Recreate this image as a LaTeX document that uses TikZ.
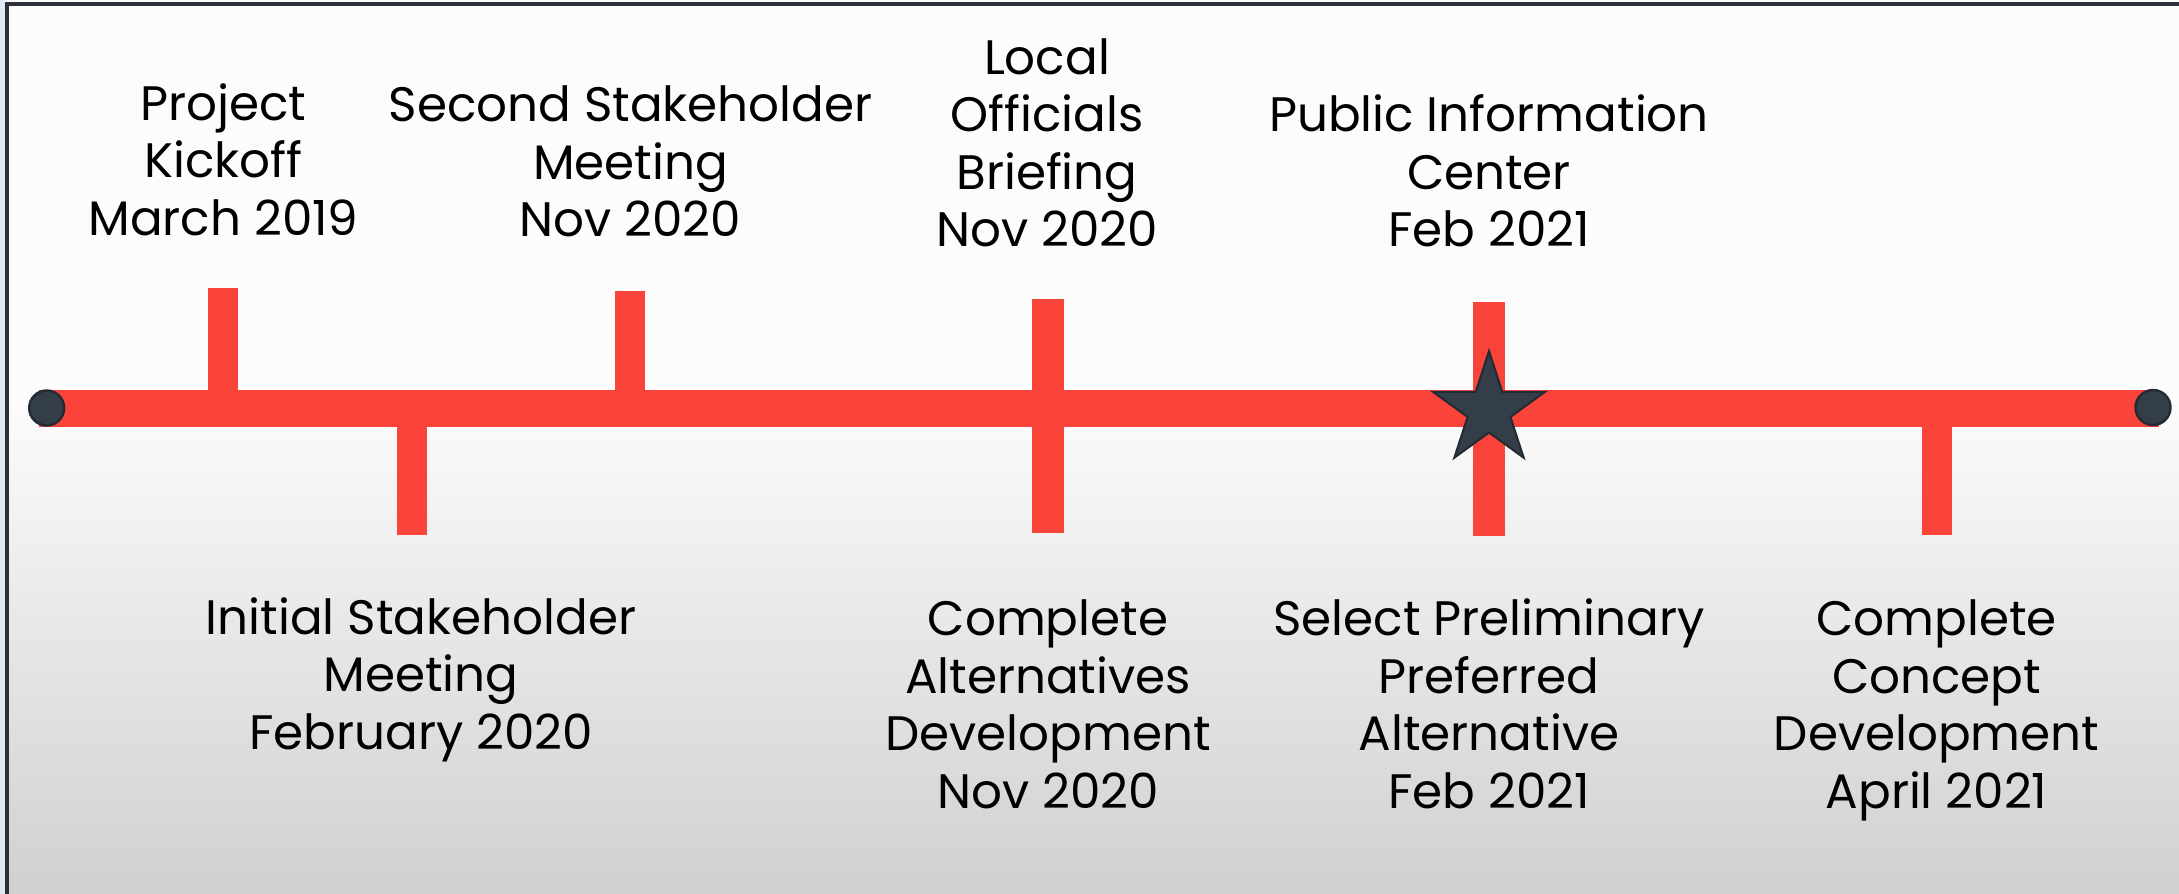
\documentclass[tikz,border=0pt]{standalone}
\usepackage{fontspec}
\setmainfont{Poppins}
\usetikzlibrary{calc}
\definecolor{tlred}{HTML}{FA4339}
\definecolor{tldark}{HTML}{343E48}
\definecolor{tledge}{HTML}{222A33}
\definecolor{bgtop}{HTML}{FCFCFC}
\definecolor{bgbot}{HTML}{D0D0D0}
\definecolor{framecol}{HTML}{2B3036}
\definecolor{stripcol}{HTML}{DDE9F3}
\tikzset{
  bar/.style={fill=tlred, draw=none},
  endcap/.style={circle, fill=tldark, draw=tledge, line width=1.2pt, minimum size=17.5pt, inner sep=0pt},
  milestone/.style={fill=tldark, draw=tledge, line width=1pt, line join=miter},
  lbl/.style={align=center, anchor=base, inner sep=0pt, font=\fontsize{24.2}{28.75}\selectfont, text=black}
}
\begin{document}
\begin{tikzpicture}[x=0.5pt,y=-0.5pt]
\useasboundingbox (0,0) rectangle (2179,894);
% background
\fill[bgtop] (0,0) rectangle (2179,400);
\shade[top color=bgtop, bottom color=bgbot, draw=none] (0,399) rectangle (2179,894);
% frame
\fill[stripcol] (0,0) rectangle (5,894);
\fill[framecol] (5,2) rectangle (8.5,894);
\fill[framecol] (5,2) rectangle (2179,5.5);
% main bar
\fill[bar] (39,390) rectangle (2159,427);
% ticks
\fill[bar] (208,288) rectangle (238,409);
\fill[bar] (397,408) rectangle (427,535);
\fill[bar] (615,291) rectangle (645,409);
\fill[bar] (1032,299) rectangle (1064,533);
\fill[bar] (1473,302) rectangle (1505,536);
\fill[bar] (1922,408) rectangle (1952,535);
% ends
\node[endcap] (startpt) at (46.7,408) {};
\node[endcap] (endpt) at (2153,407.5) {};
% star
\coordinate (S) at (1489,410);
\draw[milestone] ($(S)+(-90:59)$) -- ($(S)+(-54:22.5)$) -- ($(S)+(-18:59)$) -- ($(S)+(18:22.5)$)
  -- ($(S)+(54:59)$) -- ($(S)+(90:22.5)$) -- ($(S)+(126:59)$) -- ($(S)+(162:22.5)$)
  -- ($(S)+(198:59)$) -- ($(S)+(234:22.5)$) -- cycle;
% labels above (anchored at the baseline of the last line)
\node[lbl] (pk) at (223.5,235) {Project\\Kickoff\\March 2019};
\node[lbl] (ssm) at (630.5,236.5) {Second Stakeholder\\Meeting\\Nov 2020};
\node[lbl] (lob) at (1047,246.5) {Local\\Officials\\Briefing\\Nov 2020};
\node[lbl] (pic) at (1489,246.5) {Public Information\\Center\\Feb 2021};
% labels below
\node[lbl] (ism) at (421,749) {Initial Stakeholder\\Meeting\\February 2020};
\node[lbl] (cad) at (1048,808) {Complete\\Alternatives\\Development\\Nov 2020};
\node[lbl] (spa) at (1489,808) {Select Preliminary\\Preferred\\Alternative\\Feb 2021};
\node[lbl] (ccd) at (1936.5,808) {Complete\\Concept\\Development\\April 2021};
\end{tikzpicture}
\end{document}
